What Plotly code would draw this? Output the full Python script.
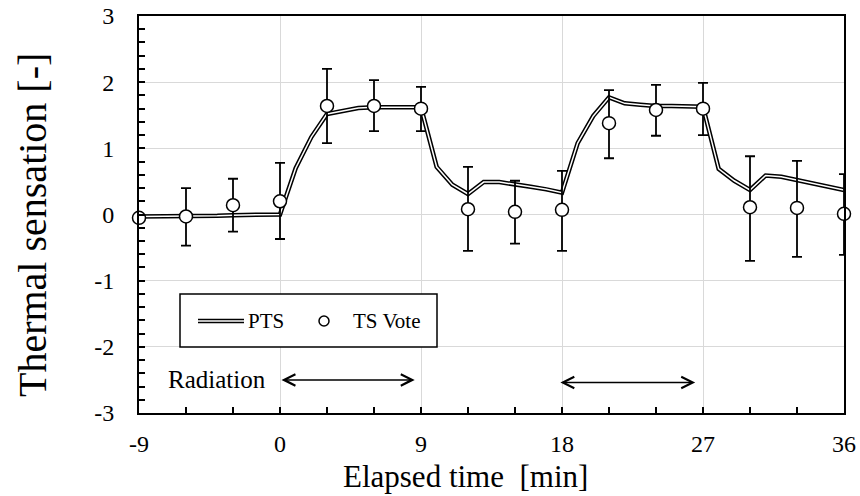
import plotly.graph_objects as go

# ---- data ----
pts_x = list(range(-9, 37))
pts_y = [-0.03, -0.03, -0.03, -0.02, -0.02, -0.02, -0.01, -0.01, -0.01, 0.00,
         0.70, 1.17, 1.52, 1.57, 1.61, 1.62, 1.62, 1.62, 1.62,
         0.72, 0.45, 0.31, 0.49, 0.49, 0.46, 0.42, 0.38, 0.33,
         1.08, 1.49, 1.77, 1.68, 1.66, 1.64, 1.64, 1.64, 1.63,
         0.69, 0.51, 0.37, 0.59, 0.57, 0.52, 0.47, 0.42, 0.37]

vote_x = [-9, -6, -3, 0, 3, 6, 9, 12, 15, 18, 21, 24, 27, 30, 33, 36]
vote_y = [-0.05, -0.03, 0.14, 0.20, 1.64, 1.64, 1.60, 0.08, 0.04, 0.07, 1.38, 1.58, 1.60, 0.11, 0.10, 0.01]
err_plus = [0.0, 0.43, 0.40, 0.58, 0.56, 0.39, 0.33, 0.64, 0.47, 0.59, 0.50, 0.38, 0.39, 0.77, 0.71, 0.60]
err_minus = [0.0, 0.44, 0.40, 0.57, 0.56, 0.38, 0.34, 0.63, 0.48, 0.62, 0.53, 0.39, 0.40, 0.81, 0.74, 0.62]

x_tickvals = [-9, 0, 9, 18, 27, 36]
x_ticktext = ["-9", "0", "9", "18", "27", "36"]
y_tickvals = [-3, -2, -1, 0, 1, 2, 3]
y_ticktext = ["-3", "-2", "-1", "0", "1", "2", "3"]

radiation_start = [0, 17.8]
radiation_end = [8.6, 26.5]
radiation_y = [-2.5, -2.54]

FONT = "Liberation Serif, Times New Roman, serif"

fig = go.Figure()

# PTS double line: black outer, white inner
fig.add_trace(go.Scatter(x=pts_x, y=pts_y, mode="lines",
                         line=dict(color="black", width=4.5), showlegend=False,
                         hoverinfo="skip"))
fig.add_trace(go.Scatter(x=pts_x, y=pts_y, mode="lines", name="PTS",
                         line=dict(color="white", width=1.5), showlegend=False))

# TS vote with error bars
fig.add_trace(go.Scatter(x=vote_x, y=vote_y, mode="markers", name="TS Vote",
                         marker=dict(symbol="circle", size=13, color="white",
                                     line=dict(color="black", width=1.5)),
                         error_y=dict(type="data", array=err_plus, arrayminus=err_minus,
                                      symmetric=False, color="black", thickness=1.8, width=5),
                         cliponaxis=False, showlegend=False))

shapes = []
annotations = []

# arrows for radiation periods
for xs, xe, ya in zip(radiation_start, radiation_end, radiation_y):
    annotations.append(dict(x=xe, y=ya, ax=xs, ay=ya, xref="x", yref="y",
                            axref="x", ayref="y", text="", showarrow=True,
                            arrowside="end+start", arrowhead=5, startarrowhead=5,
                            arrowsize=1.5, startarrowsize=1.5, arrowwidth=1.5,
                            arrowcolor="black", standoff=0, startstandoff=0))

annotations.append(dict(x=(217 - 139) / 705, y=(413 - 379) / 397, xref="paper", yref="paper",
                        text="Radiation", showarrow=False, xanchor="center", yanchor="middle",
                        font=dict(family=FONT, size=25, color="black")))

# manual legend
lx0, lx1 = (180 - 139) / 705, (437 - 139) / 705
ly0, ly1 = (413 - 347) / 397, (413 - 294) / 397
shapes.append(dict(type="rect", xref="paper", yref="paper", x0=lx0, x1=lx1, y0=ly0, y1=ly1,
                   line=dict(color="black", width=1.5), fillcolor="white", layer="above"))
ly = (413 - 321) / 397
sx0, sx1 = (198 - 139) / 705, (244 - 139) / 705
shapes.append(dict(type="line", xref="paper", yref="paper", x0=sx0, x1=sx1, y0=ly, y1=ly,
                   line=dict(color="black", width=4.5), layer="above"))
shapes.append(dict(type="line", xref="paper", yref="paper", x0=sx0, x1=sx1, y0=ly, y1=ly,
                   line=dict(color="white", width=1.5), layer="above"))
cx = (324 - 139) / 705
shapes.append(dict(type="circle", xref="paper", yref="paper", xsizemode="pixel", ysizemode="pixel",
                   xanchor=cx, yanchor=ly, x0=-5, x1=5, y0=-5, y1=5,
                   line=dict(color="black", width=1.5), fillcolor="white", layer="above"))
annotations.append(dict(x=(246 - 139) / 705, y=ly, xref="paper", yref="paper", text="PTS",
                        showarrow=False, xanchor="left", yanchor="middle",
                        font=dict(family=FONT, size=21, color="black")))
annotations.append(dict(x=(351 - 139) / 705, y=ly, xref="paper", yref="paper", text="TS Vote",
                        showarrow=False, xanchor="left", yanchor="middle",
                        font=dict(family=FONT, size=21, color="black")))

# axis titles
annotations.append(dict(x=(465 - 139) / 705, y=(413 - 476) / 397, xref="paper", yref="paper",
                        text="Elapsed time\u00a0 [min]", showarrow=False, xanchor="center",
                        yanchor="middle", font=dict(family=FONT, size=31, color="black")))
annotations.append(dict(x=(32 - 139) / 705, y=(413 - 225) / 397, xref="paper", yref="paper",
                        text="Thermal sensation [-]", showarrow=False, textangle=-90,
                        xanchor="center", yanchor="middle",
                        font=dict(family=FONT, size=40, color="black")))

fig.update_layout(
    width=860, height=496,
    margin=dict(l=139, r=16, t=16, b=83),
    plot_bgcolor="white", paper_bgcolor="white",
    shapes=shapes, annotations=annotations,
    font=dict(family=FONT, color="black"),
)

fig.update_xaxes(range=[-9, 36], tickmode="array", tickvals=x_tickvals, ticktext=x_ticktext,
                 automargin=False,
                 showgrid=True, gridcolor="#d9d9d9", gridwidth=1,
                 showline=True, linecolor="black", linewidth=2, mirror=True,
                 ticks="inside", ticklen=6, tickwidth=1.5, tickcolor="black",
                 tickfont=dict(family=FONT, size=24, color="black"),
                 ticklabelstandoff=8,
                 minor=dict(dtick=3, tick0=0, ticks="inside", ticklen=6, tickwidth=1.5,
                            tickcolor="black", showgrid=False),
                 zeroline=False)
fig.update_yaxes(range=[-3, 3], tickmode="array", tickvals=y_tickvals, ticktext=y_ticktext,
                 automargin=False,
                 showgrid=True, gridcolor="#d9d9d9", gridwidth=1,
                 showline=True, linecolor="black", linewidth=2, mirror=True,
                 ticks="inside", ticklen=6, tickwidth=1.5, tickcolor="black",
                 tickfont=dict(family=FONT, size=24, color="black"),
                 ticklabelstandoff=18,
                 minor=dict(dtick=0.2, tick0=0, ticks="inside", ticklen=6, tickwidth=1.5,
                            tickcolor="black", showgrid=False),
                 zeroline=False)

fig.write_html("out.html", config={"displayModeBar": False},
               post_script="document.body.style.margin='0';")
